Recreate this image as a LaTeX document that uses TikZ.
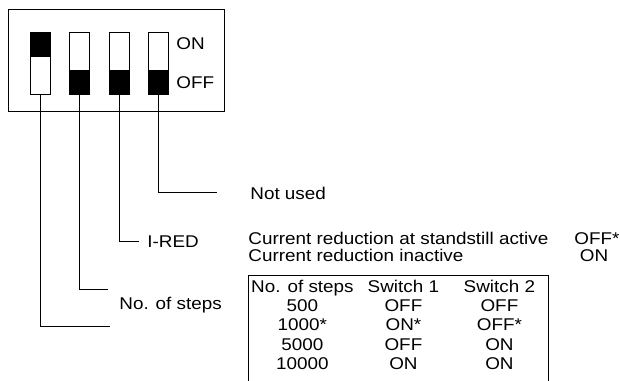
\documentclass[tikz,border=0pt]{standalone}
\usepackage{fontspec}
\setmainfont{Liberation Sans}[FakeStretch=1.11]
\usetikzlibrary{matrix}

\begin{document}
\begin{tikzpicture}[x=1pt, y=-1pt, line width=0.8pt,
  lbl/.style={inner sep=0pt, font=\fontsize{17}{15}\selectfont},
  switchbox/.style={draw, minimum width=20pt, minimum height=62pt, inner sep=0pt}]
  \useasboundingbox (0,0) rectangle (620,380);

  % DIP switch block
  \node (dip) [draw, minimum width=216pt, minimum height=102pt] at (116,60) {};
  \foreach \i/\x in {1/40,2/79.5,3/119,4/158.5}
    \node (sw\i) [switchbox] at (\x,63) {};
  \fill (sw1.north west) rectangle ([yshift=-25pt]sw1.north east);
  \foreach \i in {2,3,4}
    \fill (sw\i.south west) rectangle ([yshift=24pt]sw\i.south east);
  \node (on)  [lbl, anchor=base west] at (176,49) {ON};
  \node (off) [lbl, anchor=base west] at (176,88) {OFF};

  % leads
  \foreach \i/\y/\xe in {1/326/110, 2/289/108, 3/241/139, 4/192/217} {
    \coordinate (end\i) at (\xe,\y);
    \draw (sw\i.south) |- (end\i);
  }

  \node (notused) [lbl, anchor=base west] at (250,199) {Not used};
  \node (ired)    [lbl, anchor=base west] at (147,247) {I-RED};
  \node (steps)   [lbl, anchor=base west] at (119,309) {No. of steps};

  \node (redact)      [lbl, anchor=base west] at (248,244.5) {Current reduction at standstill active};
  \node (redinact)    [lbl, anchor=base west] at (248,261) {Current reduction inactive};
  \node (redactval)   [lbl, anchor=base] at (597,244.5) {OFF*};
  \node (redinactval) [lbl, anchor=base] at (594,261) {ON};

  % steps table
  \draw (248,383) |- (548,275) -- (548,383);
  \matrix (tab) [matrix of nodes, anchor=north west, inner sep=0pt, row sep=3.25pt,
    nodes={lbl, text height=12pt, text depth=4pt},
    column 1/.style={nodes={minimum width=108pt}},
    column 2/.style={nodes={minimum width=94pt}},
    column 3/.style={nodes={minimum width=98pt}}] at (248,280)
  {
    No. of steps & Switch 1 & Switch 2 \\
    500 & OFF & OFF \\
    1000* & ON* & OFF* \\
    5000 & OFF & ON \\
    10000 & ON & ON \\
  };
\end{tikzpicture}
\end{document}
